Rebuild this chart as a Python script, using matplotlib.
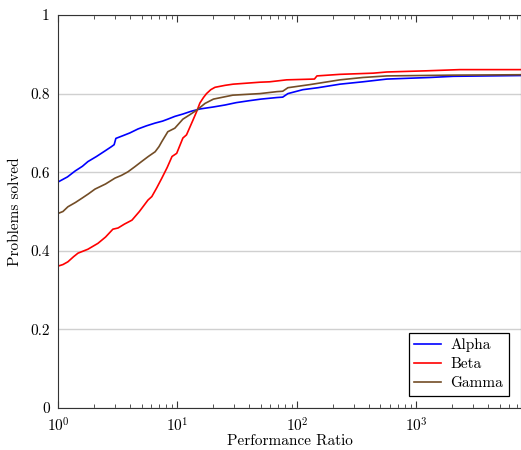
import numpy as np
import matplotlib
matplotlib.use('Agg')
import matplotlib.pyplot as plt
from matplotlib.ticker import FixedLocator, FuncFormatter, LogLocator

plt.rcParams['font.family'] = 'cmr10'
plt.rcParams['mathtext.fontset'] = 'cm'
plt.rcParams['axes.formatter.use_mathtext'] = True

# performance profile (ratio, fraction solved)
alpha_x = [1, 1.2, 1.39, 1.6, 1.78, 2.1, 2.47, 2.8, 2.95, 3.05, 3.5, 4.0, 4.67, 5.5, 6.5, 7.5, 8.3, 9.5,
           11.1, 13, 15.5, 20, 25, 31, 40, 50, 68, 76, 84, 112, 150, 229, 356, 566, 1290, 2030, 7500]
alpha_y = [0.575, 0.588, 0.603, 0.615, 0.627, 0.640, 0.654, 0.665, 0.670, 0.686, 0.693, 0.700, 0.710,
           0.718, 0.725, 0.730, 0.735, 0.742, 0.748, 0.755, 0.761, 0.766, 0.771, 0.777, 0.782, 0.786,
           0.790, 0.791, 0.800, 0.810, 0.815, 0.824, 0.830, 0.837, 0.841, 0.844, 0.846]

beta_x = [1, 1.1, 1.21, 1.35, 1.47, 1.78, 2.16, 2.5, 2.88, 3.18, 3.6, 4.16, 4.8, 5.66, 6.1, 6.7, 7.4,
          8.2, 9.0, 9.85, 11.1, 11.9, 13.5, 14.5, 15.4, 16.5, 17.5, 19, 20.6, 25, 29.2, 49, 59, 82,
          140, 147, 229, 434, 566, 1220, 2300, 7500]
beta_y = [0.361, 0.365, 0.372, 0.385, 0.394, 0.404, 0.419, 0.435, 0.455, 0.458, 0.468, 0.478, 0.500,
          0.529, 0.538, 0.560, 0.585, 0.612, 0.640, 0.648, 0.687, 0.695, 0.733, 0.755, 0.776, 0.790,
          0.800, 0.810, 0.816, 0.821, 0.824, 0.829, 0.830, 0.835, 0.837, 0.845, 0.849, 0.852, 0.855,
          0.858, 0.861, 0.861]

gamma_x = [1, 1.1, 1.21, 1.4, 1.59, 1.8, 2.04, 2.5, 3.0, 3.4, 3.85, 4.4, 5.0, 5.7, 6.5, 7.0, 7.4, 8.3,
           9.5, 11.1, 12.5, 14.5, 17, 20, 29, 49, 68, 76, 84, 129, 229, 356, 566, 2030, 7500]
gamma_y = [0.495, 0.500, 0.512, 0.523, 0.534, 0.545, 0.557, 0.570, 0.585, 0.592, 0.601, 0.614, 0.627,
           0.640, 0.652, 0.665, 0.678, 0.703, 0.712, 0.735, 0.745, 0.758, 0.775, 0.786, 0.796, 0.800,
           0.805, 0.806, 0.815, 0.823, 0.835, 0.841, 0.845, 0.847, 0.848]

names = ['Alpha', 'Beta', 'Gamma']
colors = ['#0000ff', '#ff0000', '#734d26']

fig = plt.figure(figsize=(5.21, 4.5), dpi=100)
ax = fig.add_axes([58 / 521, 42 / 450, 463 / 521, 393 / 450])

for xs, ys, name, c in zip([alpha_x, beta_x, gamma_x], [alpha_y, beta_y, gamma_y], names, colors):
    ax.plot(xs, ys, color=c, lw=1.2, label=name)

ax.set_xscale('log')
ax.set_xlim(1, 10 ** 3.875)
ax.set_ylim(0, 1)
ax.yaxis.set_major_locator(FixedLocator([0, 0.2, 0.4, 0.6, 0.8, 1.0]))
ax.yaxis.set_major_formatter(FuncFormatter(lambda v, p: '%g' % v))
ax.xaxis.set_minor_locator(LogLocator(base=10, subs=np.arange(2, 10), numticks=20))
ax.grid(axis='y', color='#d0d0d0', lw=1.0)
ax.set_axisbelow(True)

ax.tick_params(which='both', direction='in', top=True, right=True, labelsize=11, colors='#333333',
               labelcolor='black')
ax.tick_params(which='major', length=5)
ax.tick_params(which='minor', length=3)
ax.tick_params(axis='x', which='major', pad=6)
ax.tick_params(axis='y', which='major', length=0, pad=6)
for s in ax.spines.values():
    s.set_color('#333333')

ax.set_xlabel('Performance Ratio', fontsize=11, labelpad=0)
ax.set_ylabel('Problems solved', fontsize=11, labelpad=6)

leg = ax.legend(loc='lower right', fontsize=11, fancybox=False, edgecolor='black', framealpha=1,
                handlelength=1.8, handletextpad=0.6, borderaxespad=0.8, labelspacing=0.35,
                borderpad=0.35)
leg.get_frame().set_linewidth(0.9)

fig.savefig('out.png', dpi=100)
